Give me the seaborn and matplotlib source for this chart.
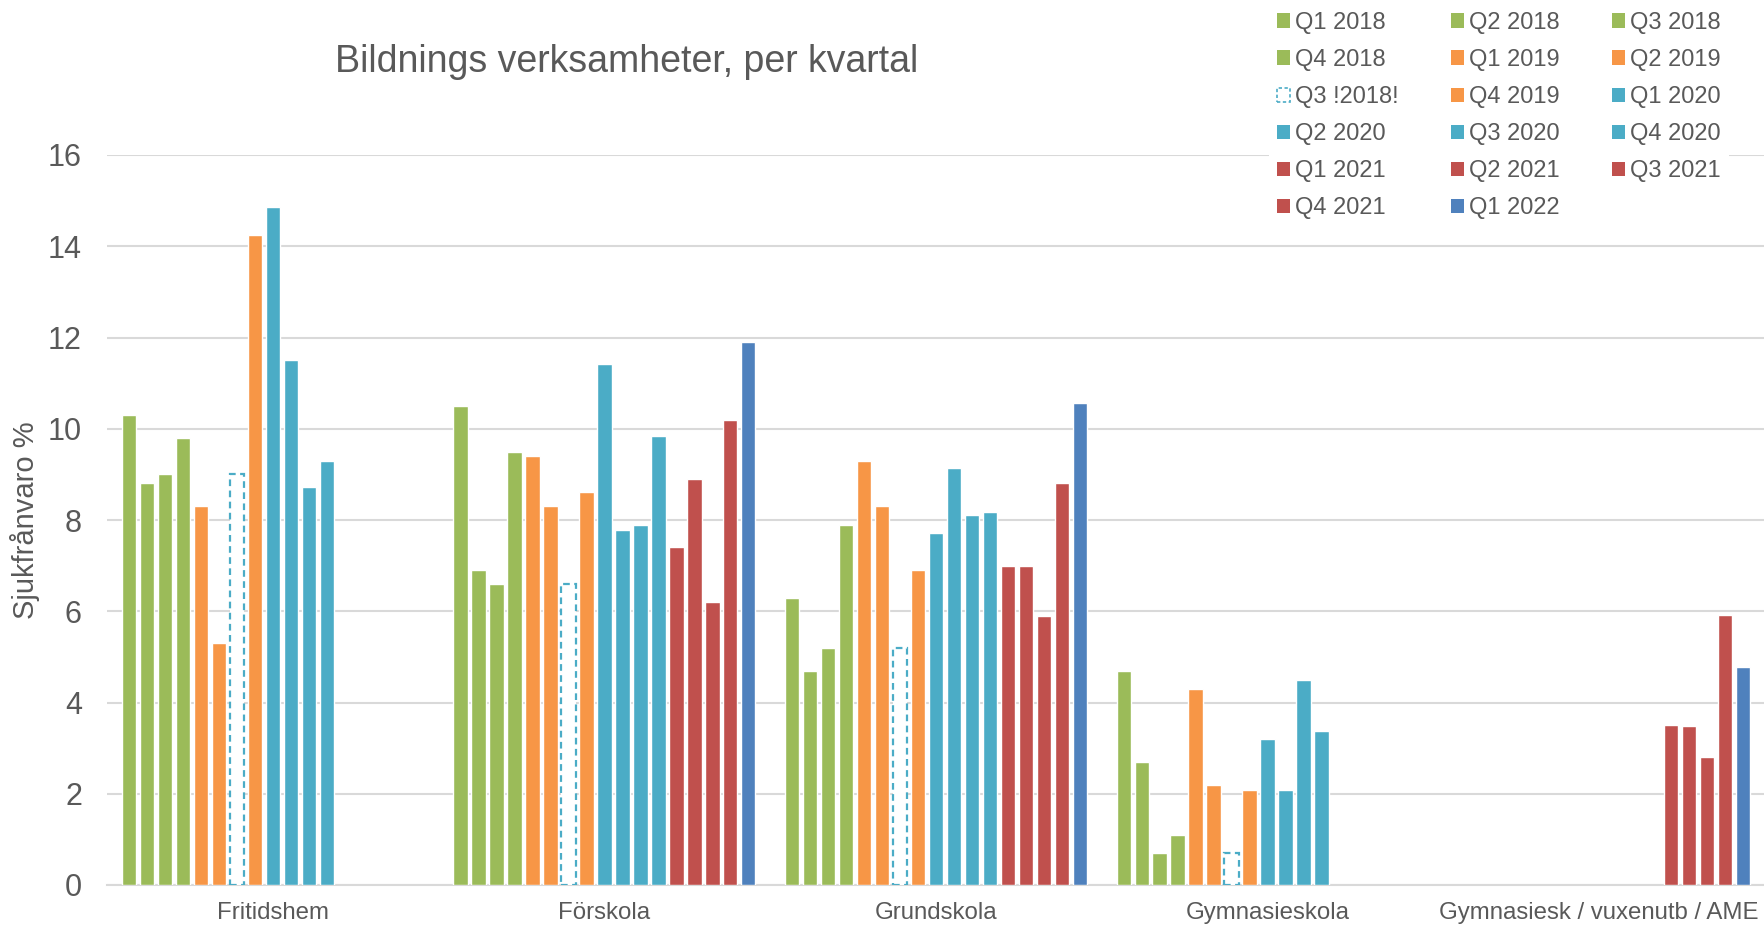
import matplotlib
matplotlib.use("Agg")
import matplotlib.pyplot as plt
import matplotlib.colors as mcolors
from matplotlib.patches import Patch
import seaborn as sns
import pandas as pd
import numpy as np

# ---------------- data ----------------
categories = ["Fritidshem", "Förskola", "Grundskola", "Gymnasieskola",
              "Gymnasiesk / vuxenutb / AME"]
series = ["Q1 2018", "Q2 2018", "Q3 2018", "Q4 2018",
          "Q1 2019", "Q2 2019", "Q3 !2018!", "Q4 2019",
          "Q1 2020", "Q2 2020", "Q3 2020", "Q4 2020",
          "Q1 2021", "Q2 2021", "Q3 2021", "Q4 2021",
          "Q1 2022"]
NA = np.nan
fritidshem = [10.3, 8.8, 9.0, 9.8, 8.3, 5.3, 9.0, 14.25,
              14.85, 11.5, 8.73, 9.3, NA, NA, NA, NA, NA]
forskola = [10.5, 6.9, 6.6, 9.5, 9.4, 8.3, 6.6, 8.62,
            11.43, 7.78, 7.88, 9.85, 7.4, 8.9, 6.2, 10.2, 11.91]
grundskola = [6.3, 4.7, 5.2, 7.9, 9.3, 8.3, 5.2, 6.9,
              7.72, 9.14, 8.12, 8.17, 7.0, 7.0, 5.9, 8.8, 10.56]
gymnasieskola = [4.7, 2.7, 0.7, 1.1, 4.3, 2.2, 0.7, 2.08,
                 3.2, 2.08, 4.5, 3.37, NA, NA, NA, NA, NA]
gymn_vux_ame = [NA, NA, NA, NA, NA, NA, NA, NA,
                NA, NA, NA, NA, 3.51, 3.49, 2.8, 5.91, 4.77]
values = [fritidshem, forskola, grundskola, gymnasieskola, gymn_vux_ame]

GREEN, ORANGE, TEAL, RED, BLUE = "#9BBB59", "#F79646", "#4BACC6", "#C0504D", "#4F81BD"
series_colors = [GREEN, GREEN, GREEN, GREEN, ORANGE, ORANGE, "DASHED", ORANGE,
                 TEAL, TEAL, TEAL, TEAL, RED, RED, RED, RED, BLUE]

rows = []
for cat, vals in zip(categories, values):
    for s, v in zip(series, vals):
        if not np.isnan(v):
            rows.append({"category": cat, "series": s, "value": v})
df = pd.DataFrame(rows)

SENTINEL = "#123456"
palette = {s: (SENTINEL if c == "DASHED" else c) for s, c in zip(series, series_colors)}

# ---------------- figure ----------------
TEXT = "#595959"
GRID = "#D9D9D9"
sns.set_theme(style="white")
plt.rcParams["font.family"] = ["Liberation Sans", "DejaVu Sans"]

fig = plt.figure(figsize=(17.65, 9.25), dpi=100)
ax = fig.add_axes([107 / 1765, 40 / 925, (1765 - 107) / 1765, (885 - 155) / 925])

sns.barplot(data=df, x="category", y="value", hue="series",
            order=categories, hue_order=series, palette=palette,
            width=0.922, gap=0.2, dodge=True, errorbar=None,
            saturation=1, legend=False, edgecolor="white", linewidth=1.0,
            ax=ax, zorder=3)

sent_rgba = mcolors.to_rgba(SENTINEL)
for p in ax.patches:
    if np.allclose(p.get_facecolor(), sent_rgba):
        p.set_facecolor("white")
        p.set_edgecolor(TEAL)
        p.set_linestyle((0, (3, 2)))
        p.set_linewidth(1.6)

ax.set_ylim(0, 16)
ax.set_xlim(-0.5, 4.5)
ax.set_yticks(np.arange(0, 17, 2))
ax.yaxis.grid(True, color=GRID, linewidth=1.5, zorder=0)
ax.set_axisbelow(True)
for side in ["left", "right", "top"]:
    ax.spines[side].set_visible(False)
ax.spines["bottom"].set_color(GRID)
ax.spines["bottom"].set_linewidth(1.5)
ax.tick_params(axis="y", length=0, labelsize=22, labelcolor=TEXT, pad=18)
ax.tick_params(axis="x", length=0, labelsize=17.3, labelcolor=TEXT, pad=12)
ax.set_xlabel("")
ax.set_ylabel("Sjukfrånvaro %", fontsize=21, color=TEXT)
ax.yaxis.set_label_coords((40 - 107) / 1658, 0.5)

fig.text(627 / 1765, 1 - 62 / 925, "Bildnings verksamheter, per kvartal",
         ha="center", va="center", fontsize=27, color=TEXT)

# legend (row-major order like the reference)
handles = []
for s, c in zip(series, series_colors):
    if c == "DASHED":
        handles.append(Patch(facecolor="white", edgecolor=TEAL, linestyle=(0, (2, 1.5)), linewidth=1.2))
    else:
        handles.append(Patch(facecolor=c, edgecolor="none"))
ncol = 3
nrow = int(np.ceil(len(series) / ncol))
order = []
for c in range(ncol):
    for r in range(nrow):
        i = r * ncol + c
        if i < len(series):
            order.append(i)
leg = fig.legend([handles[i] for i in order], [series[i] for i in order],
                 loc="upper left", bbox_to_anchor=(1269 / 1765, 1 - 3.5 / 925),
                 bbox_transform=fig.transFigure, ncol=ncol, fontsize=17,
                 frameon=True, facecolor="white", edgecolor="none", framealpha=1,
                 fancybox=False, handlelength=0.55, handleheight=0.55,
                 handletextpad=0.2, columnspacing=2.23, labelspacing=0.64,
                 borderpad=0.35, borderaxespad=0)
for t in leg.get_texts():
    t.set_color(TEXT)

fig.savefig("out.png", dpi=100, facecolor="white")
